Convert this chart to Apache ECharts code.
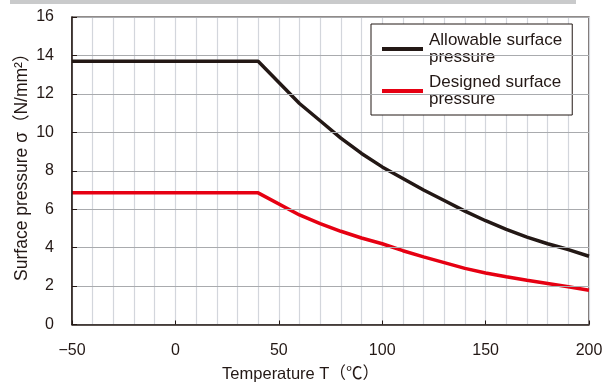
<!DOCTYPE html>
<html>
<head>
<meta charset="utf-8">
<script src="https://cdn.jsdelivr.net/npm/echarts@6/dist/echarts.min.js"></script>
<style>
	html, body { margin: 0; padding: 0; background: #fff; }
	#main { width: 608px; height: 388px; }
</style>
</head>
<body>
<div id="main"></div>
<script>
	// temperature (°C) and surface pressure (N/mm2)
	const temps = [-50, 40, 60, 70, 80, 90, 100, 110, 120, 130, 140, 150, 160, 170, 180, 190, 200]
	const allowable = [13.7, 13.7, 11.5, 10.6, 9.7, 8.9, 8.2, 7.6, 7.0, 6.45, 5.9, 5.4, 4.95, 4.55, 4.2, 3.9, 3.55]
	const designed = [6.85, 6.85, 5.7, 5.25, 4.85, 4.5, 4.2, 3.84, 3.52, 3.22, 2.92, 2.68, 2.48, 2.3, 2.13, 1.96, 1.78]

	const textColor = '#231815'
	const fontFamily = 'Liberation Sans, Arial, "Noto Sans CJK JP", sans-serif'

	const pairs = (ys) => temps.map((t, i) => [t, ys[i]])

	const myChart = echarts.init(document.getElementById('main'))
	const option = {
		animation: false,
		textStyle: { fontFamily: fontFamily, color: textColor },
		graphic: [{
			type: 'rect',
			shape: { x: 10, y: 0, width: 566, height: 4 },
			style: { fill: '#c9cacb' }
		}],
		grid: {
			left: 72,
			right: 19,
			top: 17,
			bottom: 63,
			show: true,
			borderColor: textColor,
			borderWidth: 1.2
		},
		legend: {
			orient: 'vertical',
			left: 371,
			top: 24,
			padding: [8, 10, 7, 11],
			itemGap: 8,
			itemWidth: 41,
			itemHeight: 4,
			icon: 'rect',
			backgroundColor: '#fff',
			borderColor: textColor,
			borderWidth: 1,
			borderRadius: 0,
			textStyle: { fontSize: 17, lineHeight: 17, color: textColor, fontFamily: fontFamily, padding: [0, 0, 0, 1] },
			data: ['Allowable surface\npressure', 'Designed surface\npressure']
		},
		xAxis: [{
			type: 'value',
			min: -50,
			max: 200,
			interval: 50,
			name: 'Temperature T（℃）',
			nameLocation: 'middle',
			nameGap: 42,
			nameMoveOverlap: false,
			nameTextStyle: { fontSize: 16.5, color: textColor, padding: [0, 60, 0, 0] },
			axisLine: { onZero: false, lineStyle: { color: textColor, width: 1.5 } },
			axisTick: { inside: true, length: 4, lineStyle: { color: textColor } },
			axisLabel: {
				fontSize: 16,
				color: textColor,
				margin: 18,
				formatter: (v) => v < 0 ? '\u2212' + Math.abs(v) : String(v)
			},
			splitLine: { show: false },
			z: 5
		}, {
			// only for the light vertical grid every 10 degrees
			type: 'value',
			position: 'bottom',
			min: -50,
			max: 200,
			interval: 10,
			axisLine: { show: false },
			axisTick: { show: false },
			axisLabel: { show: false },
			splitLine: { show: true, lineStyle: { color: '#d3d6dc', width: 1.2 } }
		}],
		yAxis: {
			type: 'value',
			min: 0,
			max: 16,
			interval: 2,
			name: 'Surface pressure σ（N/mm²）',
			nameLocation: 'middle',
			nameGap: 41,
			nameMoveOverlap: false,
			nameTextStyle: { fontSize: 17.5, color: textColor, padding: [0, 0, 0, 16] },
			axisLine: { show: true, onZero: false, lineStyle: { color: textColor, width: 1.5 } },
			axisTick: { show: true, inside: true, length: 5, lineStyle: { color: textColor } },
			axisLabel: { fontSize: 16, color: textColor, margin: 18 },
			splitLine: { lineStyle: { color: '#a9abae', width: 1.2 } },
			z: 5
		},
		series: [{
			name: 'Allowable surface\npressure',
			type: 'line',
			data: pairs(allowable),
			showSymbol: false,
			color: '#231815',
			lineStyle: { width: 3.5, color: '#231815' },
			z: 3
		}, {
			name: 'Designed surface\npressure',
			type: 'line',
			data: pairs(designed),
			showSymbol: false,
			color: '#e60012',
			lineStyle: { width: 3.5, color: '#e60012' },
			z: 2
		}]
	}
	myChart.setOption(option)
</script>
</body>
</html>
